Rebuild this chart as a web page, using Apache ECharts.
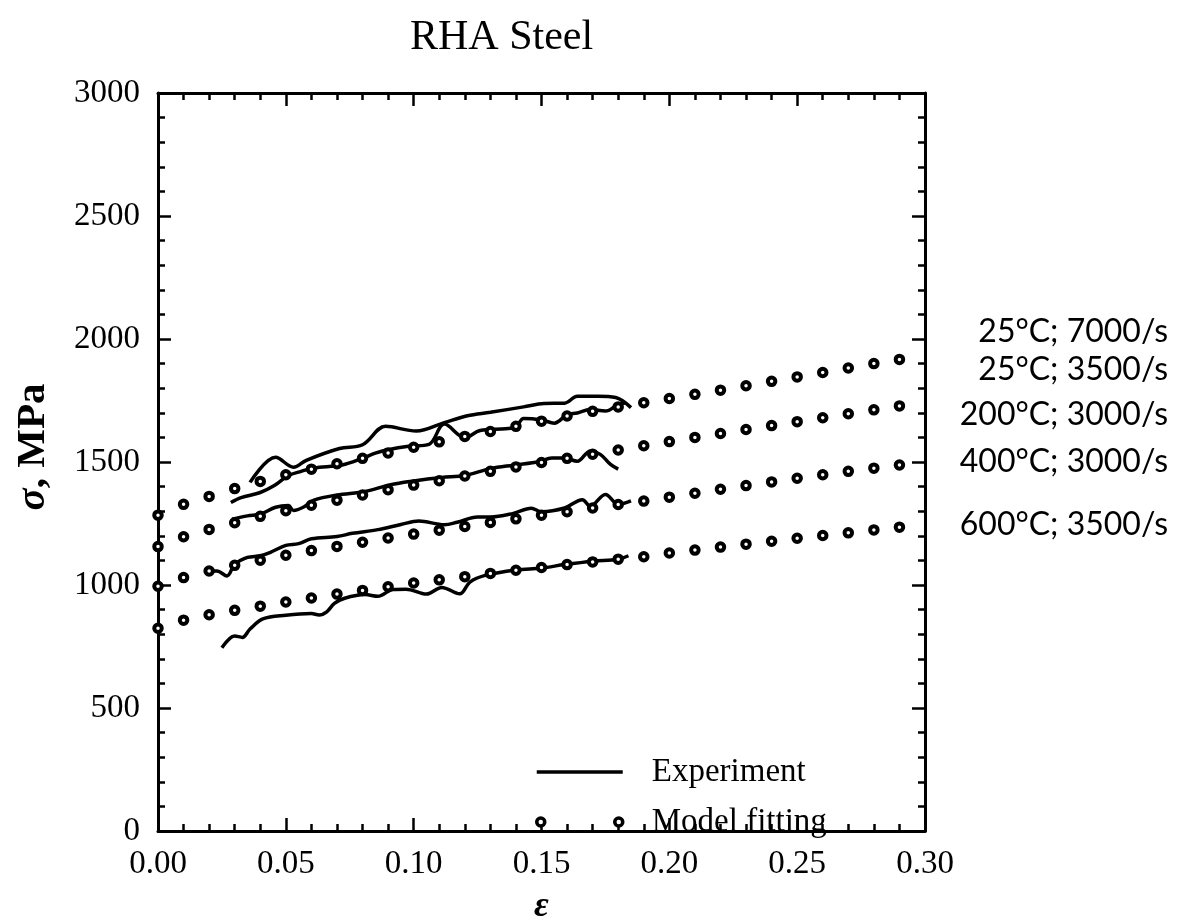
<!DOCTYPE html>
<html>
<head>
<meta charset="utf-8">
<script src="https://cdn.jsdelivr.net/npm/echarts@6/dist/echarts.min.js"></script>
<style>
html,body{margin:0;padding:0;background:#fff;}
#chart{width:1181px;height:921px;}
</style>
</head>
<body>
<div id="chart"></div>
<script>
// ---- data ----
const chartTitle = 'RHA Steel';
const xTicks = [0.00, 0.05, 0.10, 0.15, 0.20, 0.25, 0.30];
const yTicks = [0, 500, 1000, 1500, 2000, 2500, 3000];

const modelX = [0.00,0.01,0.02,0.03,0.04,0.05,0.06,0.07,0.08,0.09,0.10,0.11,0.12,0.13,0.14,
                0.15,0.16,0.17,0.18,0.19,0.20,0.21,0.22,0.23,0.24,0.25,0.26,0.27,0.28,0.29];
const model25C = [1284,1328,1360,1392,1421,1448,1471,1493,1515,1537,1560,1582,1604,1624,1645,
                  1666,1687,1706,1724,1741,1758,1775,1792,1810,1828,1846,1864,1882,1900,1917];
const model200C = [1156,1196,1226,1253,1279,1302,1324,1345,1366,1387,1406,1424,1443,1462,1480,
                   1498,1515,1532,1549,1566,1583,1600,1616,1632,1648,1664,1680,1696,1712,1728];
const model400C = [995,1030,1057,1080,1101,1121,1140,1157,1174,1191,1207,1223,1238,1254,1269,
                   1284,1298,1313,1327,1341,1357,1373,1389,1404,1419,1434,1448,1462,1475,1488];
const model600C = [824,857,879,897,914,931,947,963,978,993,1008,1021,1034,1047,1060,
                   1071,1083,1094,1105,1115,1130,1142,1154,1166,1178,1190,1201,1212,1224,1235];

const exp25C7000X = [0.036,0.046,0.053,0.058,0.071,0.080,0.089,0.101,0.112,0.121,0.130,0.143,0.151,0.159,0.164,0.172,0.179,0.185];
const exp25C7000Y = [1417,1519,1479,1507,1555,1570,1645,1626,1660,1688,1702,1724,1738,1739,1767,1767,1762,1721];

const exp25C3500X = [0.0285,0.0325,0.040,0.0455,0.051,0.056,0.061,0.072,0.080,0.085,0.090,0.098,0.106,0.112,0.120,0.126,0.136,0.140,0.143,0.150,0.155,0.160,0.164,0.169,0.175,0.180,0.183];
const exp25C3500Y = [1335,1355,1376,1404,1445,1462,1476,1488,1515,1536,1550,1564,1572,1654,1599,1628,1635,1642,1677,1671,1658,1692,1699,1713,1707,1734,1741];

const exp200CX = [0.029,0.035,0.040,0.046,0.051,0.053,0.057,0.061,0.070,0.081,0.091,0.100,0.111,0.120,0.130,0.139,0.149,0.154,0.159,0.164,0.169,0.173,0.177,0.180];
const exp200CY = [1267,1281,1288,1316,1323,1303,1317,1345,1366,1380,1408,1423,1437,1445,1473,1487,1501,1516,1516,1503,1544,1531,1490,1471];

const exp400CX = [0.018,0.023,0.027,0.030,0.035,0.040,0.044,0.050,0.055,0.060,0.070,0.076,0.086,0.095,0.102,0.112,0.117,0.125,0.130,0.139,0.146,0.150,0.159,0.166,0.169,0.175,0.180,0.185];
const exp400CY = [1056,1057,1037,1084,1112,1119,1133,1161,1168,1188,1197,1210,1225,1246,1260,1245,1255,1276,1276,1291,1312,1298,1313,1347,1320,1368,1328,1342];

const exp600CX = [0.025,0.030,0.033,0.036,0.041,0.050,0.060,0.063,0.066,0.069,0.073,0.081,0.086,0.092,0.097,0.105,0.111,0.118,0.122,0.128,0.140,0.150,0.159,0.170,0.180,0.184];
const exp600CY = [745,793,787,821,862,877,884,878,891,925,946,961,954,982,983,963,990,964,1012,1039,1061,1069,1083,1097,1105,1119];

const curveLabels = ['25\u00B0C; 7000/s','25\u00B0C; 3500/s','200\u00B0C; 3000/s','400\u00B0C; 3000/s','600\u00B0C; 3500/s'];

// ---- helpers ----
const zip = (xs, ys) => xs.map((x, i) => [x, ys[i]]);
const serif = '"Liberation Serif", "DejaVu Serif", serif';

const expSeries = [
  zip(exp25C7000X, exp25C7000Y), zip(exp25C3500X, exp25C3500Y),
  zip(exp200CX, exp200CY), zip(exp400CX, exp400CY), zip(exp600CX, exp600CY)
].map(d => ({
  name: 'Experiment', type: 'line', data: d, symbol: 'none', smooth: 0.35,
  lineStyle: {color: '#000', width: 3.5}, itemStyle: {color: '#000'}, z: 2, animation: false
}));

const modelSeries = [model25C, model200C, model400C, model600C].map(vals => ({
  name: 'Model fitting', type: 'scatter', data: zip(modelX, vals),
  symbol: 'circle', symbolSize: 7.5,
  itemStyle: {color: '#fff', borderColor: '#000', borderWidth: 4, opacity: 1},
  z: 3, animation: false
}));

const xMin = xTicks[0], xMax = xTicks[xTicks.length - 1];
const yMin = yTicks[0], yMax = yTicks[yTicks.length - 1];

const commonAxisLine = {show: true, onZero: false, lineStyle: {color: '#000', width: 3}};
const commonTick = {show: true, inside: true, length: 13, lineStyle: {color: '#000', width: 2.5}};
const commonMinor = {show: true, splitNumber: 5, length: 7, lineStyle: {color: '#000', width: 2.5}};

const labelTop = [335, 373, 418, 465, 528];

const chart = echarts.init(document.getElementById('chart'), null, {renderer: 'canvas'});
chart.setOption({
  backgroundColor: '#fff',
  animation: false,
  title: {
    text: chartTitle, left: 405, top: 12,
    textStyle: {fontFamily: serif, fontSize: 42, fontWeight: 'normal', color: '#000'}
  },
  grid: {left: 158, right: 256, top: 93, bottom: 90, outerBoundsMode: 'none', containLabel: false},
  legend: {
    orient: 'vertical', left: 535, top: 754, padding: 0, itemWidth: 86, itemHeight: 8, itemGap: 14,
    textStyle: {fontFamily: serif, fontSize: 33, color: '#000', lineHeight: 36, padding: [0, 0, 0, 24]},
    data: [
      {name: 'Experiment', itemStyle: {color: 'transparent', borderWidth: 0, opacity: 0},
       lineStyle: {color: '#000', width: 3.5}},
      {name: 'Model fitting',
       icon: 'path://M0,4a4,4 0 1,0 8,0a4,4 0 1,0 -8,0ZM78,4a4,4 0 1,0 8,0a4,4 0 1,0 -8,0Z',
       itemStyle: {color: '#fff', borderColor: '#000', borderWidth: 3.5}}
    ]
  },
  xAxis: [
    {type: 'value', min: xMin, max: xMax, interval: 0.05, position: 'bottom',
     name: '\u03B5', nameLocation: 'middle', nameGap: 58,
     nameTextStyle: {fontFamily: serif, fontSize: 36, fontStyle: 'italic', fontWeight: 'bold', color: '#000'},
     axisLine: commonAxisLine, axisTick: commonTick, minorTick: commonMinor,
     splitLine: {show: false},
     axisLabel: {show: true, margin: 17, fontFamily: serif, fontSize: 33, color: '#000',
                 formatter: v => v.toFixed(2)}},
    {type: 'value', min: xMin, max: xMax, interval: 0.05, position: 'top',
     axisLine: commonAxisLine, axisTick: commonTick, minorTick: commonMinor,
     splitLine: {show: false}, axisLabel: {show: false}}
  ],
  yAxis: [
    {type: 'value', min: yMin, max: yMax, interval: 500, position: 'left',
     name: '{i|\u03C3}, MPa', nameLocation: 'middle', nameGap: 104, nameRotate: 90,
     nameTextStyle: {fontFamily: serif, fontSize: 41, fontWeight: 'bold', color: '#000',
                     padding: [0, 0, 0, 30],
                     rich: {i: {fontFamily: serif, fontSize: 41, fontStyle: 'italic', fontWeight: 'bold', color: '#000'}}},
     axisLine: commonAxisLine, axisTick: commonTick, minorTick: commonMinor,
     splitLine: {show: false},
     axisLabel: {show: true, margin: 18, fontFamily: serif, fontSize: 33, color: '#000',
                 formatter: v => String(v)}},
    {type: 'value', min: yMin, max: yMax, interval: 500, position: 'right',
     axisLine: commonAxisLine, axisTick: commonTick, minorTick: commonMinor,
     splitLine: {show: false}, axisLabel: {show: false}}
  ],
  graphic: curveLabels.map((t, i) => ({
    type: 'text', right: 13, top: labelTop[i] - 19,
    style: {text: t, fontFamily: 'Lato, "Open Sans", sans-serif', fontSize: 32, fill: '#000'}
  })),
  series: [...expSeries, ...modelSeries]
});
</script>
</body>
</html>
